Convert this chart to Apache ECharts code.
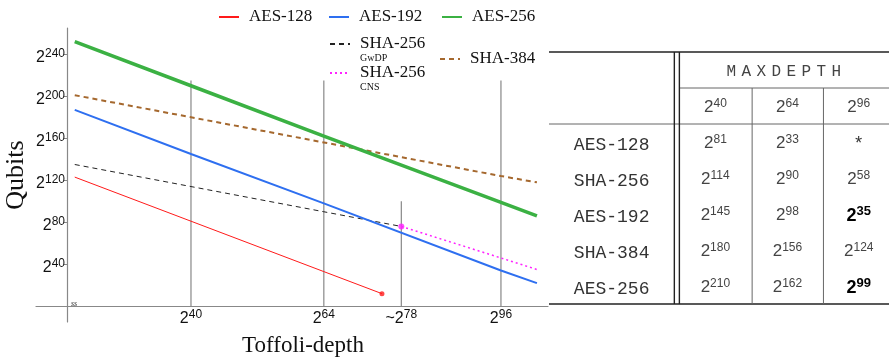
<!DOCTYPE html>
<html>
<head>
<meta charset="utf-8">
<script src="https://cdn.jsdelivr.net/npm/echarts@6/dist/echarts.min.js"></script>
<style>
  html, body { margin: 0; padding: 0; background: #fff; }
  #main { width: 889px; height: 358px; }
</style>
</head>
<body>
<div id="main"></div>
<script>
// 左：Qubits - Toffoli-depth（坐标均为 2 的指数），右：MAXDEPTH 表
const depthTicks = [40, 64, 78, 96];
const qubitTicks = [40, 80, 120, 160, 200, 240];

const aes128 = [[19, 123], [40, 81], [64, 33], [74.5, 12]];
const aes192 = [[19, 187], [40, 145], [64, 98], [96, 34], [102.5, 22]];
const aes256 = [[19, 252], [40, 210], [64, 162], [96, 99], [102.5, 86]];
const sha256GwDP = [[19, 135], [40, 114], [64, 90], [78, 76]];
const sha256CNS = [[78, 76], [96, 46], [102.5, 35]];
const sha384 = [[19, 201], [40, 180], [64, 156], [96, 124], [102.5, 118]];
const aes128End = [[74.5, 12]];
const cnsStart = [[78, 76]];
// 竖直参考线的顶端
const guideTops = [215, 215, 100, 215];

// 表格数据
const tableRows = ["AES-128", "SHA-256", "AES-192", "SHA-384", "AES-256"];
const tableCols = [40, 64, 96];
const tableVals = [
  [81, 33, null],
  [114, 90, 58],
  [145, 98, 35],
  [180, 156, 124],
  [210, 162, 99]
];
const tableBold = [
  [0, 0, 0],
  [0, 0, 0],
  [0, 0, 1],
  [0, 0, 0],
  [0, 0, 1]
];

const serif = '"Liberation Serif", "Times New Roman", serif';
const sans = '"Liberation Sans", Arial, sans-serif';
const mono = '"Liberation Mono", "Courier New", monospace';

const powRich = {
  b: { fontFamily: sans, fontSize: 16, color: "#111" },
  s: { fontFamily: sans, fontSize: 12, color: "#111", padding: [0, 0, 8, 0] }
};
function pow2(e, pre) {
  return "{b|" + (pre || "") + "2}{s|" + e + "}";
}

// 表格布局（表格内部单位）
const colMid = [0.87, 2.31, 3.31, 4.3];
const headMid = 3.26;
const tableRules = [
  [0, 0, 4.72, 0, 1],
  [1.81, 1, 4.72, 1, 0],
  [0, 2, 4.72, 2, 0],
  [0, 7, 4.72, 7, 1],
  [1.74, 0, 1.74, 7, 1],
  [1.81, 0, 1.81, 7, 1],
  [2.82, 1, 2.82, 7, 0],
  [3.81, 1, 3.81, 7, 0]
];

const cellSpec = [];
cellSpec.push({ pos: [headMid, 0.55], text: "MAXDEPTH".split("").map(ch => "{m|" + ch + "}").join("{g| }"), kind: "head" });
tableCols.forEach((c, j) => {
  cellSpec.push({ pos: [colMid[j + 1], 1.55], text: "{b|2}{s|" + c + "}", kind: "num" });
});
tableRows.forEach((r, i) => {
  cellSpec.push({ pos: [colMid[0], 2.6 + i], text: r, kind: "name" });
  tableVals[i].forEach((v, j) => {
    let t;
    if (v === null) t = "*";
    else if (tableBold[i][j]) t = "{bb|2}{bs|" + v + "}";
    else t = "{b|2}{s|" + v + "}";
    cellSpec.push({ pos: [colMid[j + 1], 2.55 + i], text: t, kind: v === null ? "name" : "num" });
  });
});

const tableRich = {
  b: { fontFamily: sans, fontSize: 17, fill: "#444" },
  s: { fontFamily: sans, fontSize: 12, fill: "#444", padding: [0, 0, 8, 0] },
  bb: { fontFamily: sans, fontSize: 18, fontWeight: "bold", fill: "#000" },
  bs: { fontFamily: sans, fontSize: 13, fontWeight: "bold", fill: "#000", padding: [0, 0, 8, 0] },
  m: { fontFamily: mono, fontSize: 16, fill: "#444" },
  g: { fontFamily: mono, fontSize: 9, fill: "#444" }
};

function legendAt(name, left, top, fmt) {
  return {
    data: [name],
    left: left,
    top: top,
    padding: 0,
    itemWidth: 20,
    itemHeight: 14,
    selectedMode: false,
    formatter: fmt,
    itemStyle: { opacity: 0 },
    textStyle: {
      fontFamily: serif,
      fontSize: 17,
      color: "#111",
      lineHeight: 18,
      padding: [0, 0, 0, 5],
      rich: {
        sp: { fontSize: 9, lineHeight: 10 },
        m: { fontFamily: serif, fontSize: 17, lineHeight: 18, color: "#111" },
        s: { fontFamily: serif, fontSize: 10, lineHeight: 10, color: "#111" }
      }
    }
  };
}

const chart = echarts.init(document.getElementById("main"), null, { renderer: "canvas" });

chart.setOption({
  animation: false,
  backgroundColor: "#fff",
  grid: [
    { left: 36, right: 341, top: 28, bottom: 36, outerBoundsMode: "none" },
    { left: 549, right: 0, top: 52, bottom: 54, outerBoundsMode: "none" }
  ],
  legend: [
    legendAt("AES-128", 218, 8),
    legendAt("AES-192", 328, 8),
    legendAt("AES-256", 441, 8),
    legendAt("SHA-256 GwDP", 329, 25, () => "{sp| }\n{m|SHA-256}\n{s|GwDP}"),
    legendAt("SHA-256 CNS", 329, 54, () => "{sp| }\n{m|SHA-256}\n{s|CNS}"),
    legendAt("SHA-384", 439, 50)
  ],
  xAxis: [
    {
      type: "value",
      gridIndex: 0,
      min: 12,
      max: 104.5,
      axisLine: { show: true, onZero: true, lineStyle: { color: "#888", width: 1.2 } },
      axisTick: { show: false },
      splitLine: { show: false },
      axisLabel: {
        customValues: depthTicks,
        margin: -13,
        formatter: v => pow2(v, v === 78 ? "~" : ""),
        rich: powRich
      },
      name: "Toffoli-depth",
      nameLocation: "middle",
      nameGap: 12,
      nameTextStyle: { fontFamily: serif, fontSize: 23, color: "#111", padding: [0, 0, 0, 22] }
    },
    { type: "value", gridIndex: 1, min: 0, max: 4.72, show: false }
  ],
  yAxis: [
    {
      type: "value",
      gridIndex: 0,
      min: -15,
      max: 265,
      offset: -31,
      axisLine: { show: true, onZero: false, lineStyle: { color: "#888", width: 1.2 } },
      axisTick: { show: true, length: 3, customValues: qubitTicks, lineStyle: { color: "#888" } },
      splitLine: { show: false },
      axisLabel: {
        customValues: qubitTicks,
        margin: 2,
        padding: [7, 0, 0, 0],
        formatter: v => pow2(v),
        rich: powRich
      },
      name: "Qubits",
      nameLocation: "middle",
      nameRotate: 90,
      nameGap: 38,
      nameMoveOverlap: false,
      nameTextStyle: { fontFamily: serif, fontSize: 26, color: "#111" }
    },
    { type: "value", gridIndex: 1, min: 0, max: 7, inverse: true, show: false }
  ],
  graphic: [
    { type: "text", left: 71, top: 300, style: { text: "ss", font: "italic 8px serif", fill: "#333" } }
  ],
  series: [
    {
      name: "guides",
      type: "custom",
      z: 1,
      silent: true,
      data: depthTicks.map((d, i) => [d, guideTops[i]]),
      renderItem: (params, api) => {
        const p0 = api.coord([api.value(0), 0]);
        const p1 = api.coord([api.value(0), api.value(1)]);
        return {
          type: "line",
          shape: { x1: p0[0], y1: p0[1], x2: p1[0], y2: p1[1] },
          style: { stroke: "#888", lineWidth: 1.2 }
        };
      }
    },
    {
      name: "AES-128", type: "line", data: aes128, symbol: "none", z: 3,
      lineStyle: { color: "#ff1a1a", width: 1 }, itemStyle: { color: "#ff1a1a" }
    },
    {
      name: "SHA-256 GwDP", type: "line", data: sha256GwDP, symbol: "none", z: 3,
      lineStyle: { color: "#222", width: 1, type: [5, 4] }, itemStyle: { color: "#222" }
    },
    {
      name: "SHA-256 CNS", type: "line", data: sha256CNS, symbol: "none", z: 3,
      lineStyle: { color: "#ff22ff", width: 1.5, type: [2, 3] }, itemStyle: { color: "#ff22ff" }
    },
    {
      name: "SHA-384", type: "line", data: sha384, symbol: "none", z: 3,
      lineStyle: { color: "#a5682e", width: 2, type: [5, 4] }, itemStyle: { color: "#a5682e" }
    },
    {
      name: "AES-192", type: "line", data: aes192, symbol: "none", z: 3,
      lineStyle: { color: "#2e6ff0", width: 2 }, itemStyle: { color: "#2e6ff0" }
    },
    {
      name: "AES-256", type: "line", data: aes256, symbol: "none", z: 3,
      lineStyle: { color: "#3bb143", width: 3.5 }, itemStyle: { color: "#3bb143" }
    },
    {
      name: "aes128End", type: "scatter", data: aes128End, symbolSize: 5, z: 4,
      itemStyle: { color: "#ff1a1a" }
    },
    {
      name: "cnsStart", type: "scatter", data: cnsStart, symbolSize: 6, z: 4,
      itemStyle: { color: "#ff22ff" }
    },
    // 表格线
    {
      name: "tableRules",
      type: "custom",
      xAxisIndex: 1,
      yAxisIndex: 1,
      silent: true,
      data: tableRules,
      encode: { x: [0, 2], y: [1, 3] },
      renderItem: (params, api) => {
        const a = api.coord([api.value(0), api.value(1)]);
        const b = api.coord([api.value(2), api.value(3)]);
        const dark = api.value(4) === 1;
        return {
          type: "line",
          shape: { x1: a[0], y1: a[1], x2: b[0], y2: b[1] },
          style: { stroke: dark ? "#222" : "#666", lineWidth: dark ? 1.4 : 1 }
        };
      }
    },
    // 表格文字
    {
      name: "tableText",
      type: "custom",
      xAxisIndex: 1,
      yAxisIndex: 1,
      silent: true,
      data: cellSpec.map(c => c.pos),
      renderItem: (params, api) => {
        const c = cellSpec[params.dataIndex];
        const p = api.coord([api.value(0), api.value(1)]);
        return {
          type: "text",
          x: p[0],
          y: p[1],
          style: {
            text: c.text,
            rich: tableRich,
            fontFamily: c.kind === "num" ? sans : mono,
            fontSize: 18,
            fill: "#333",
            align: "center",
            verticalAlign: "middle"
          }
        };
      }
    }
  ]
});
</script>
</body>
</html>
